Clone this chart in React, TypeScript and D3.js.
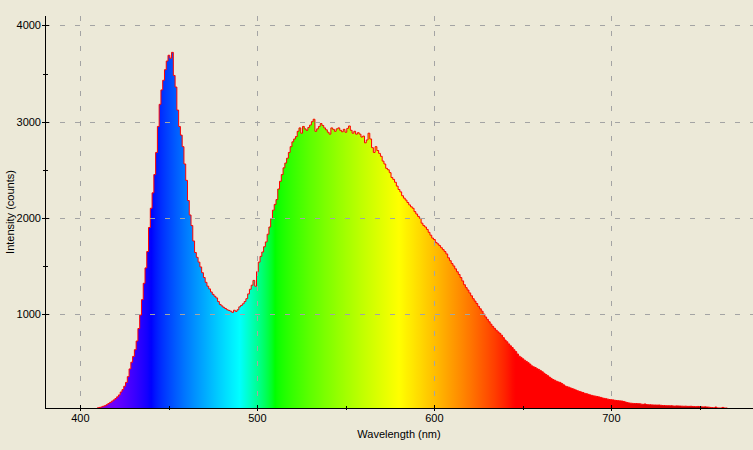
import React from 'react';
import * as d3 from 'd3';

// Spectrometer reading of a white LED: one count per 1 nm bin, first bin at 410 nm
const FIRST_NM = 410;
const COUNTS = [
  26, 30, 35, 42, 48, 58, 70, 82, 95, 108, // 410
  122, 140, 160, 190, 215, 250, 290, 350, 430, 500, // 420
  560, 630, 720, 850, 990, 1150, 1320, 1480, 1650, 1900, // 430
  2100, 2260, 2450, 2680, 2950, 3180, 3330, 3430, 3540, 3630, // 440
  3690, 3660, 3720, 3480, 3360, 3120, 2950, 2860, 2740, 2560, // 450
  2390, 2180, 2030, 1920, 1760, 1640, 1590, 1540, 1490, 1430, // 460
  1380, 1330, 1290, 1262, 1230, 1205, 1185, 1168, 1130, 1100, // 470
  1085, 1070, 1058, 1045, 1038, 1030, 1018, 1040, 1028, 1045, // 480
  1075, 1090, 1107, 1130, 1160, 1210, 1258, 1300, 1350, 1290, // 490
  1440, 1540, 1600, 1645, 1700, 1750, 1830, 1905, 1990, 2080, // 500
  2140, 2190, 2300, 2380, 2450, 2520, 2570, 2620, 2680, 2740, // 510
  2790, 2820, 2845, 2900, 2935, 2880, 2950, 2925, 2910, 2940, // 520
  2965, 3000, 3025, 2900, 2925, 2950, 2980, 2960, 2935, 2915, // 530
  2890, 2870, 2935, 2920, 2900, 2925, 2935, 2910, 2895, 2920, // 540
  2890, 2930, 2955, 2910, 2880, 2900, 2870, 2885, 2870, 2840, // 550
  2850, 2780, 2810, 2880, 2820, 2730, 2680, 2740, 2700, 2670, // 560
  2640, 2590, 2560, 2515, 2500, 2470, 2420, 2400, 2370, 2330, // 570
  2295, 2270, 2230, 2205, 2185, 2160, 2135, 2115, 2100, 2065, // 580
  2040, 2015, 1995, 1945, 1920, 1905, 1880, 1850, 1820, 1790, // 590
  1775, 1745, 1730, 1712, 1690, 1670, 1650, 1625, 1585, 1555, // 600
  1525, 1500, 1470, 1440, 1412, 1380, 1345, 1305, 1275, 1250, // 610
  1220, 1190, 1160, 1135, 1110, 1080, 1055, 1030, 1000, 970, // 620
  945, 920, 895, 872, 852, 832, 815, 800, 780, 755, // 630
  730, 712, 690, 670, 652, 630, 610, 585, 562, 550, // 640
  535, 520, 508, 495, 480, 462, 452, 445, 432, 425, // 650
  412, 400, 385, 372, 360, 345, 332, 320, 312, 302, // 660
  295, 290, 278, 265, 252, 245, 240, 232, 225, 218, // 670
  210, 202, 196, 190, 184, 176, 172, 166, 160, 155, // 680
  150, 147, 143, 139, 134, 128, 124, 120, 116, 112, // 690
  110, 108, 104, 102, 100, 98, 96, 92, 86, 80, // 700
  76, 74, 72, 70, 70, 69, 68, 64, 62, 66, // 710
  60, 58, 58, 56, 55, 55, 54, 55, 52, 50, // 720
  50, 48, 48, 47, 48, 45, 44, 46, 45, 44, // 730
  43, 42, 43, 41, 41, 42, 40, 39, 38, 40, // 740
  37, 36, 35, 36, 34, 33, 30, 28, 26, 34, // 750
  25, 24, 24, 30, 24, 24, // 760
];

const X_DOMAIN = [380, 780];
const Y_DOMAIN = [24, 4098];
const X_MAJOR = [400, 500, 600, 700];
const X_MINOR = [450, 550, 650, 750];
const Y_MAJOR = [1000, 2000, 3000, 4000];
const Y_MINOR = [1500, 2500, 3500];

const WIDTH = 753;
const HEIGHT = 450;
const PLOT = { left: 45, top: 16, right: 753, bottom: 408 };
const BG = '#ece9d8';
const GRID = '#a4a4a4';
const FONT = '"Liberation Sans", Arial, sans-serif';

// Wavelength -> visible colour (Bruton's approximation with edge fall-off)
function spectrumColor(nm: number): string {
  let r = 0;
  let g = 0;
  let b = 0;
  if (nm < 440) {
    r = -(nm - 440) / 60;
    b = 1;
  } else if (nm < 490) {
    g = (nm - 440) / 50;
    b = 1;
  } else if (nm < 510) {
    g = 1;
    b = -(nm - 510) / 20;
  } else if (nm < 580) {
    r = (nm - 510) / 70;
    g = 1;
  } else if (nm < 645) {
    r = 1;
    g = -(nm - 645) / 65;
  } else {
    r = 1;
  }
  let factor = 1;
  if (nm < 420) factor = 0.3 + (0.7 * (nm - 380)) / 40;
  else if (nm > 700) factor = 0.3 + (0.7 * (780 - nm)) / 80;
  const ch = (c: number) => Math.round(255 * Math.pow(Math.max(0, c * factor), 0.8));
  return `rgb(${ch(r)},${ch(g)},${ch(b)})`;
}

const App: React.FC = () => {
  const x = d3.scaleLinear().domain(X_DOMAIN).range([PLOT.left, PLOT.right]);
  const y = d3.scaleLinear().domain(Y_DOMAIN).range([PLOT.bottom, PLOT.top]);

  // bin edges: each bin spans nm-0.5 .. nm+0.5
  const pts: [number, number][] = COUNTS.map((c, i) => [FIRST_NM + i - 0.5, c]);
  pts.push([FIRST_NM + COUNTS.length - 0.5, COUNTS[COUNTS.length - 1]]);

  const area = d3
    .area<[number, number]>()
    .x((d) => x(d[0]))
    .y0(y(Y_DOMAIN[0]))
    .y1((d) => y(d[1]))
    .curve(d3.curveStepAfter);

  const line = d3
    .line<[number, number]>()
    .x((d) => x(d[0]))
    .y((d) => y(d[1]))
    .curve(d3.curveStepAfter);

  const stops = d3.range(X_DOMAIN[0], X_DOMAIN[1] + 1, 2);

  return (
    <svg
      width={WIDTH}
      height={HEIGHT}
      style={{ position: 'absolute', left: 0, top: 0, display: 'block' }}
    >
      <defs>
        <linearGradient
          id="spectrum"
          gradientUnits="userSpaceOnUse"
          x1={x(X_DOMAIN[0])}
          x2={x(X_DOMAIN[1])}
          y1={0}
          y2={0}
        >
          {stops.map((nm) => (
            <stop
              key={nm}
              offset={(nm - X_DOMAIN[0]) / (X_DOMAIN[1] - X_DOMAIN[0])}
              stopColor={spectrumColor(nm)}
            />
          ))}
        </linearGradient>
        <clipPath id="plot-clip">
          <rect x={PLOT.left} y={0} width={PLOT.right - PLOT.left} height={PLOT.bottom} />
        </clipPath>
      </defs>

      <rect width={WIDTH} height={HEIGHT} fill={BG} />

      <g clipPath="url(#plot-clip)">
        <path d={area(pts) ?? ''} fill="url(#spectrum)" />
        <path d={line(pts) ?? ''} fill="none" stroke="#ff0000" strokeWidth={1} />
      </g>

      {/* grid */}
      <g stroke={GRID} strokeWidth={1} strokeDasharray="5,10" shapeRendering="crispEdges">
        {Y_MAJOR.map((v) => (
          <line
            key={v}
            x1={PLOT.left}
            x2={PLOT.right}
            y1={Math.round(y(v)) + 0.5}
            y2={Math.round(y(v)) + 0.5}
          />
        ))}
        {X_MAJOR.map((v) => (
          <line
            key={v}
            x1={Math.round(x(v)) + 0.5}
            x2={Math.round(x(v)) + 0.5}
            y1={PLOT.top}
            y2={PLOT.bottom}
          />
        ))}
      </g>

      {/* axes */}
      <g stroke="#000" strokeWidth={1} shapeRendering="crispEdges">
        <line x1={PLOT.left + 0.5} x2={PLOT.left + 0.5} y1={PLOT.top} y2={PLOT.bottom + 1} />
        <line x1={PLOT.left} x2={PLOT.right} y1={PLOT.bottom + 0.5} y2={PLOT.bottom + 0.5} />
        {Y_MAJOR.map((v) => (
          <line
            key={v}
            x1={PLOT.left - 3}
            x2={PLOT.left + 4}
            y1={Math.round(y(v)) + 0.5}
            y2={Math.round(y(v)) + 0.5}
          />
        ))}
        {Y_MINOR.map((v) => (
          <line
            key={v}
            x1={PLOT.left - 2}
            x2={PLOT.left + 3}
            y1={Math.round(y(v)) + 0.5}
            y2={Math.round(y(v)) + 0.5}
          />
        ))}
        {X_MAJOR.map((v) => (
          <line
            key={v}
            x1={Math.round(x(v)) + 0.5}
            x2={Math.round(x(v)) + 0.5}
            y1={PLOT.bottom - 3}
            y2={PLOT.bottom + 3}
          />
        ))}
        {X_MINOR.map((v) => (
          <line
            key={v}
            x1={Math.round(x(v)) + 0.5}
            x2={Math.round(x(v)) + 0.5}
            y1={PLOT.bottom - 2}
            y2={PLOT.bottom + 2}
          />
        ))}
      </g>

      <g fontFamily={FONT} fontSize={11} fill="#000">
        {Y_MAJOR.map((v) => (
          <text key={v} x={PLOT.left - 4} y={y(v) + 4} textAnchor="end">
            {v}
          </text>
        ))}
        {X_MAJOR.map((v) => (
          <text key={v} x={x(v)} y={422} textAnchor="middle">
            {v}
          </text>
        ))}
        <text x={(PLOT.left + PLOT.right) / 2} y={438} textAnchor="middle">
          Wavelength (nm)
        </text>
        <text
          transform={`translate(14,${(PLOT.top + PLOT.bottom) / 2}) rotate(-90)`}
          textAnchor="middle"
        >
          Intensity (counts)
        </text>
      </g>
    </svg>
  );
};

export default App;
